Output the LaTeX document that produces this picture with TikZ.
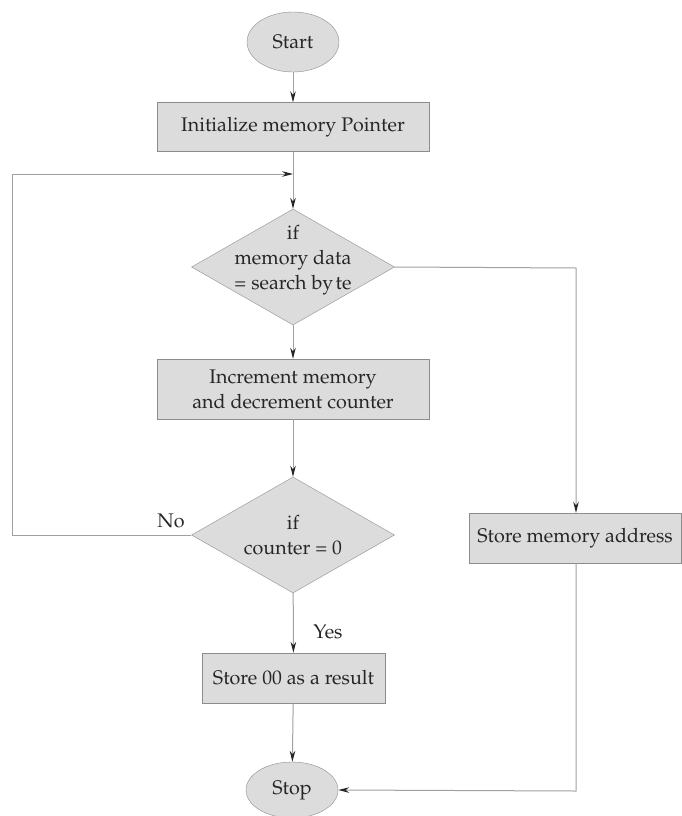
\documentclass[tikz,border=0pt]{standalone}
\usepackage[T1]{fontenc}
\usepackage{mathpazo}
\usetikzlibrary{shapes.geometric,arrows.meta}
\definecolor{boxfill}{HTML}{DCDCDC}
\definecolor{edgecol}{HTML}{8C8C8C}
\definecolor{wire}{HTML}{A0A0A0}
\begin{document}
\begin{tikzpicture}[x=1pt,y=-1pt,
 every node/.style={font=\fontsize{19.7}{25}\selectfont, text=black!85},
 term/.style={ellipse, draw=edgecol, fill=boxfill, minimum width=92pt, minimum height=60pt, inner sep=0pt},
 proc/.style={rectangle, draw=edgecol, fill=boxfill, inner sep=0pt, align=center},
 dec/.style={diamond, draw=edgecol, fill=boxfill, minimum width=203pt, minimum height=116pt, inner sep=0pt},
 wireline/.style={draw=wire, line width=1pt},
 arr/.style={wireline, -{Stealth[length=11pt,width=5.5pt,color=black!85]}}]
\useasboundingbox (0,0) rectangle (681,816);
\node[term] (start) at (293,42) {Start};
\node[proc, minimum width=272pt, minimum height=49pt] (init) at (293,127) {Initialize memory Pointer};
\coordinate (join) at (293,174);
\node[dec] (d1) at (293,267) {};
\node[align=center] (d1t) at (293,260) {if\\memory data\\= search by\hspace{0.12em}te};
\node[proc, minimum width=272pt, minimum height=60pt] (inc) at (293,389) {Increment memory\\and decrement counter};
\node[dec] (d2) at (293,535) {};
\node[align=center] (d2t) at (293,535) {if\\counter = 0};
\node[proc, minimum width=183pt, minimum height=50pt] (st0) at (293.5,678) {Store 00 as a result};
\node[term, minimum height=56pt] (stop) at (292,790) {Stop};
\node[proc, minimum width=212pt, minimum height=50pt] (sma) at (575,538) {Store memory address};
\coordinate (ll) at (12,535);
\coordinate (lu) at (12,174);
\coordinate (ru) at (576,268);
\coordinate (rd) at (576,791);
\node (no) at (171,521) {No};
\node (yes) at (328,632) {Yes};
% connectors
\draw[arr] (start) -- (init);
\draw[wireline] (init) -- (join);
\draw[arr] (join) -- (d1.north);
\draw[arr] (d1) -- (inc);
\draw[arr] (inc) -- (d2.north);
\draw[arr] (d2) -- (st0);
\draw[arr] (st0) -- (stop);
\draw[arr] (d2.west) -- (ll) -- (lu) -- (join);
\draw[arr] (d1.east) -- (ru) -- (sma.north -| ru);
\draw[arr] (sma.south -| rd) -- (rd) -- (stop.east);
\end{tikzpicture}
\end{document}
